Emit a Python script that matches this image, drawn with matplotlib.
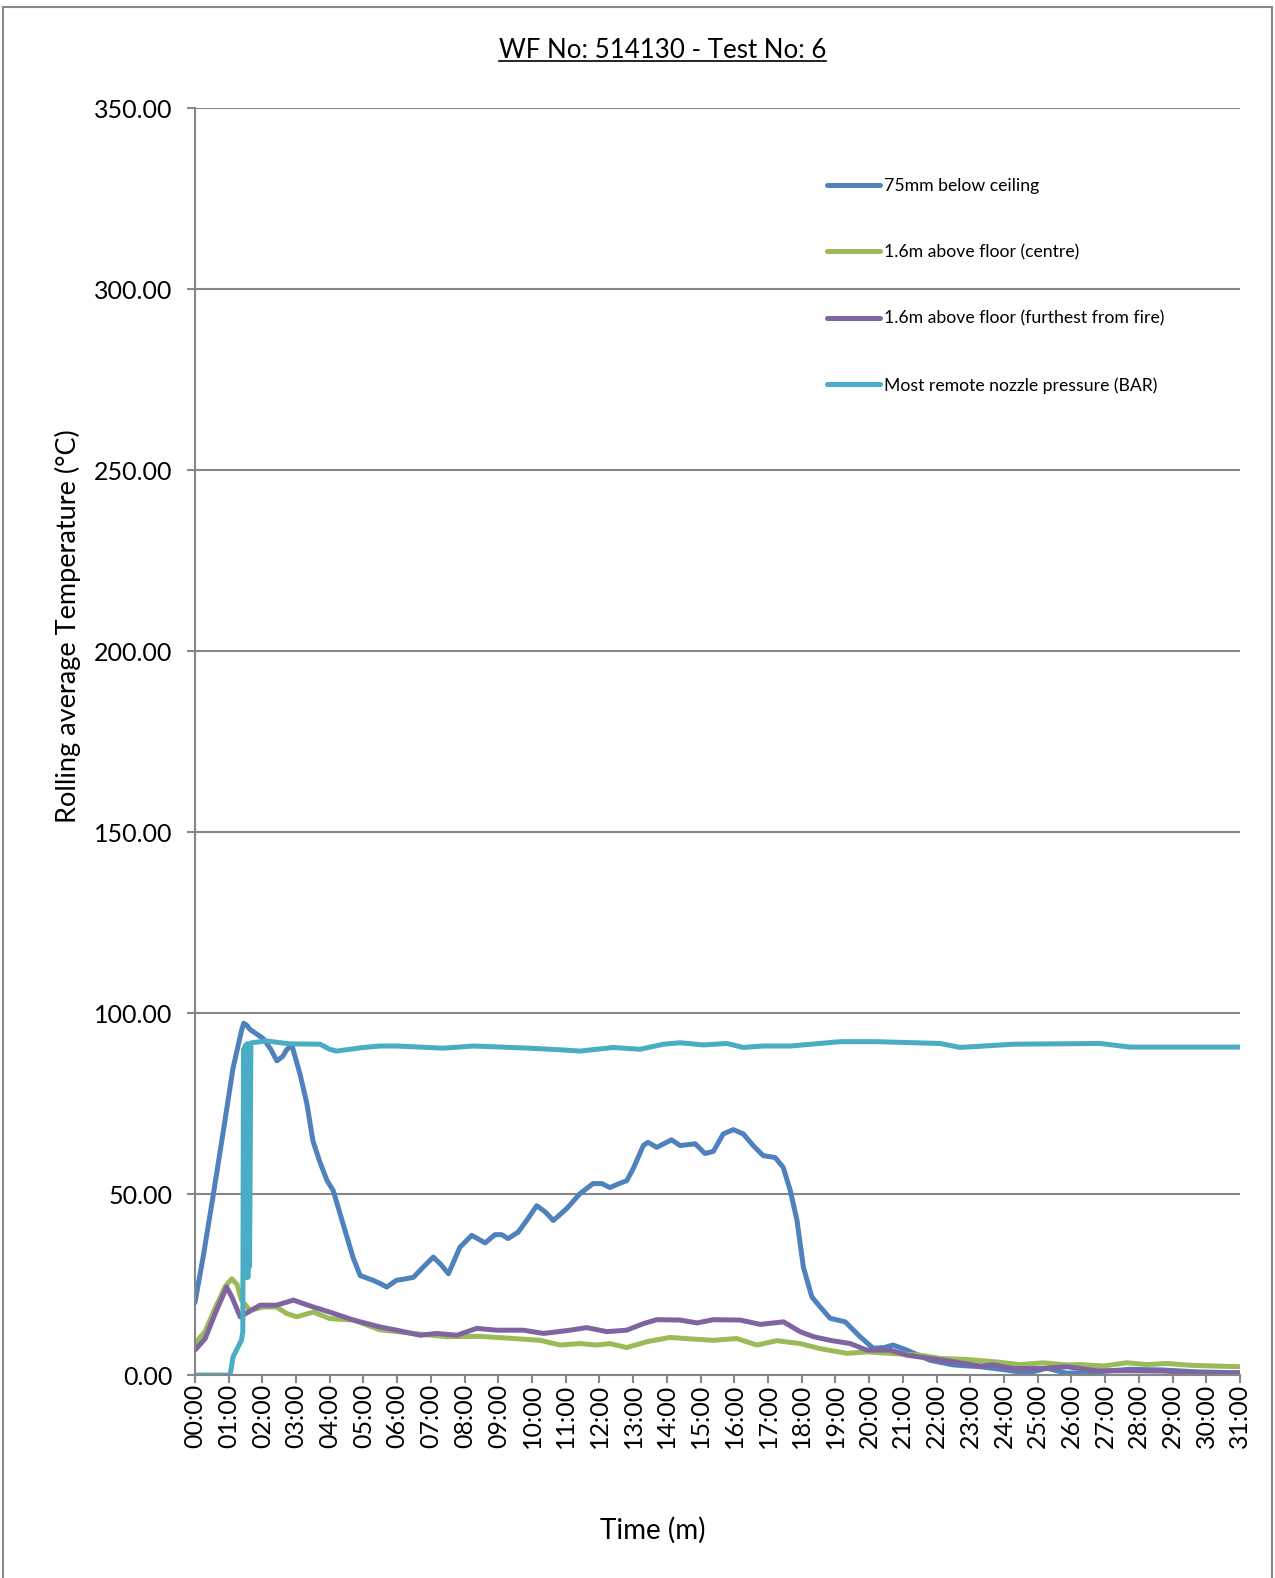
import matplotlib
matplotlib.use("Agg")
import matplotlib.pyplot as plt
from matplotlib.lines import Line2D
from matplotlib.patches import Rectangle
from matplotlib.ticker import FixedLocator, FuncFormatter

plt.rcParams['font.family'] = ['Lato', 'DejaVu Sans']

title = "WF No: 514130 - Test No: 6"
labels = ["75mm below ceiling", "1.6m above floor (centre)",
          "1.6m above floor (furthest from fire)", "Most remote nozzle pressure (BAR)"]
colors = ["#4F81BD", "#9BBB59", "#8064A2", "#4BACC6"]

# time in minutes
t_ceiling = [0.0, 0.25, 0.53, 0.83, 1.13, 1.39, 1.45, 1.55, 1.63, 2.02, 2.25, 2.43, 2.6, 2.73, 2.88,
             3.12, 3.32, 3.5, 3.7, 3.92, 4.1, 4.39, 4.69, 4.9, 5.1, 5.28, 5.49, 5.69, 5.98, 6.2,
             6.48, 6.77, 7.07, 7.3, 7.52, 7.86, 8.21, 8.61, 8.9, 9.1, 9.29, 9.59, 9.84, 10.14,
             10.4, 10.63, 11.03, 11.42, 11.81, 12.07, 12.31, 12.61, 12.81, 13.0, 13.3, 13.44,
             13.7, 14.14, 14.39, 14.84, 15.13, 15.38, 15.67, 15.97, 16.27, 16.56, 16.86, 17.21,
             17.45, 17.66, 17.86, 18.05, 18.3, 18.55, 18.84, 19.29, 19.73, 20.12, 20.45, 20.71,
             21.12, 21.8, 22.5, 23.29, 24.08, 24.68, 25.27, 25.87, 26.76, 27.74, 28.73, 29.72, 31.0]
v_ceiling = [20, 33, 49, 66.7, 84.8, 95.5, 97.2, 96.5, 95.5, 93, 90, 86.8, 88, 90, 91,
             83, 75, 64.7, 59, 53.7, 51, 41.9, 32.5, 27.5, 26.8, 26.2, 25.3, 24.3, 26.2, 26.5,
             27, 29.8, 32.6, 30.5, 28, 35.3, 38.6, 36.5, 38.8, 38.8, 37.7, 39.5, 42.7, 46.8,
             45, 42.7, 46, 50.1, 52.9, 52.9, 51.8, 53, 53.7, 57, 63.4, 64.3,
             62.9, 65, 63.4, 63.9, 61.2, 61.8, 66.6, 67.8, 66.6, 63.4, 60.6, 60.1,
             57.4, 51, 42.7, 29.8, 21.6, 18.8, 15.7, 14.7, 10.6, 7.4, 7.6, 8.3,
             6.9, 4.1, 2.8, 2.3, 1.4, 0.5, 1.9, 0.5, 0.9, 1.6, 1.4, 0.9, 0.6]

t_centre = [0, 0.3, 0.6, 0.9, 1.09, 1.25, 1.38, 1.63, 2.03, 2.42, 2.72, 3.02, 3.51, 4.0, 4.7,
            5.49, 6.48, 7.47, 8.46, 9.45, 10.24, 10.83, 11.42, 11.92, 12.31, 12.81, 13.4, 14.09,
            14.69, 15.38, 16.07, 16.67, 17.26, 17.95, 18.55, 19.34, 19.93, 20.63, 21.51, 22.11,
            22.9, 23.69, 24.48, 25.17, 25.87, 26.26, 26.95, 27.64, 28.24, 28.83, 29.53, 30.22, 31.0]
v_centre = [8.7, 12, 18.5, 24.5, 26.6, 25, 20.7, 17.9, 18.8, 18.8, 17, 16.1, 17.4, 15.6, 15.2,
            12.5, 11.5, 10.6, 10.7, 10.1, 9.6, 8.3, 8.7, 8.3, 8.7, 7.6, 9.2, 10.4,
            10, 9.6, 10.1, 8.3, 9.5, 8.7, 7.3, 6, 6.4, 6, 5.5, 4.6,
            4.3, 3.7, 2.9, 3.4, 2.8, 2.9, 2.5, 3.4, 2.9, 3.2, 2.7, 2.5, 2.3]

t_far = [0, 0.3, 0.6, 0.94, 1.1, 1.34, 1.6, 1.93, 2.42, 2.92, 3.51, 4.0, 4.7, 5.49, 5.98, 6.68,
         7.17, 7.77, 8.36, 8.95, 9.74, 10.34, 11.13, 11.62, 12.22, 12.81, 13.3, 13.7, 14.39,
         14.89, 15.38, 16.17, 16.77, 17.46, 17.95, 18.35, 18.84, 19.44, 19.93, 20.63, 21.12,
         21.8, 22.5, 23.29, 23.69, 24.28, 25.07, 25.87, 26.76, 27.74, 28.74, 29.72, 31.0]
v_far = [6.9, 10, 17, 24.3, 21.5, 16.1, 17.5, 19.3, 19.3, 20.7, 18.8, 17.4, 15.2, 13.3, 12.4, 11,
         11.5, 11, 12.9, 12.4, 12.4, 11.5, 12.4, 13.1, 12, 12.4, 14.2, 15.3, 15.2,
         14.4, 15.3, 15.2, 14, 14.7, 12, 10.6, 9.6, 8.7, 6.9, 6.9, 5.5,
         4.6, 3.7, 2.5, 2.8, 1.8, 1.8, 2.3, 1.2, 1.2, 1.1, 0.6, 0.6]

t_nozzle = [0, 1.04, 1.07, 1.13, 1.28, 1.38, 1.42, 1.44, 1.47, 1.49, 1.52, 1.54, 1.57, 1.59, 1.62,
            1.66, 1.68, 2.13, 2.8, 3.71, 4.0, 4.2, 5.0, 5.49, 5.99, 7.37, 8.26, 9.94, 10.93, 11.42,
            12.41, 13.2, 13.9, 14.39, 15.08, 15.78, 16.27, 16.86, 17.66, 19.14, 20.23, 22.11,
            22.7, 24.28, 26.85, 27.74, 31.0]
v_nozzle = [0, 0, 1.5, 5, 7.8, 9.6, 12, 90, 30, 91, 27, 91.5, 27, 91.5, 30,
            91.5, 91.8, 92.3, 91.5, 91.4, 90, 89.5, 90.5, 90.9, 90.9, 90.3, 90.9, 90.3, 89.8, 89.5,
            90.5, 90, 91.4, 91.8, 91.2, 91.6, 90.5, 90.9, 90.9, 92.1, 92.1, 91.6,
            90.5, 91.4, 91.6, 90.6, 90.6]

minutes = list(range(0, 32))
yticks = [0, 50, 100, 150, 200, 250, 300, 350]

fig = plt.figure(figsize=(12.75, 15.78), dpi=100)
ax = fig.add_axes([0.1529, 0.1286, 0.8196, 0.8029])

series = [(t_ceiling, v_ceiling), (t_centre, v_centre), (t_far, v_far), (t_nozzle, v_nozzle)]
for (tt, vv), lab, c in zip(series, labels, colors):
    ax.plot(tt, vv, color=c, lw=3.6, label=lab, solid_capstyle='round', solid_joinstyle='round')

ax.set_xlim(0, 31)
ax.set_ylim(0, 350)
ax.yaxis.set_major_locator(FixedLocator(yticks))
ax.yaxis.set_major_formatter(FuncFormatter(lambda v, p: "%.2f" % v))
ax.xaxis.set_major_locator(FixedLocator(minutes))
ax.xaxis.set_major_formatter(FuncFormatter(lambda v, p: "%02d:00" % int(round(v))))
ax.grid(axis='y', color='#868686', lw=1.5)
ax.set_axisbelow(True)
for s in ['top', 'right']:
    ax.spines[s].set_visible(False)
for s in ['left', 'bottom']:
    ax.spines[s].set_color('#868686')
    ax.spines[s].set_linewidth(1.5)
ax.tick_params(axis='y', length=6, width=1.5, color='#868686', pad=10, labelsize=18)
ax.tick_params(axis='x', length=6, width=1.5, color='#868686', pad=0.5, labelsize=18,
               labelrotation=90)

ax.set_ylabel("Rolling average Temperature (°C)", fontsize=19.5)
ax.yaxis.set_label_coords(-0.109, 0.591)
fig.text(0.5118, 1 - 1530 / 1578, "Time (m)", fontsize=20, ha='center', va='center')

ttl = fig.text(0.5196, 1 - 50 / 1578, title, fontsize=18.6, ha='center', va='center')

leg = ax.legend(loc='upper left', bbox_to_anchor=(0.6486, 1 - 178 / 1578),
                bbox_transform=fig.transFigure, frameon=False, fontsize=12.7,
                handlelength=3.0, handletextpad=0.25, labelspacing=2.85, borderpad=0,
                borderaxespad=0)

# outer chart frame
fig.add_artist(Rectangle((3 / 1275, -0.01), 1269 / 1275, 1.01 - 6.5 / 1578,
                         transform=fig.transFigure, fill=False, edgecolor='#888888', lw=1.5))

# underline for title
fig.canvas.draw()
bb = ttl.get_window_extent().transformed(fig.transFigure.inverted())
fig.add_artist(Line2D([bb.x0, bb.x1], [bb.y0 + 0.001, bb.y0 + 0.001], transform=fig.transFigure,
                      color='black', lw=1.2))

fig.savefig("out.png", dpi=100)
